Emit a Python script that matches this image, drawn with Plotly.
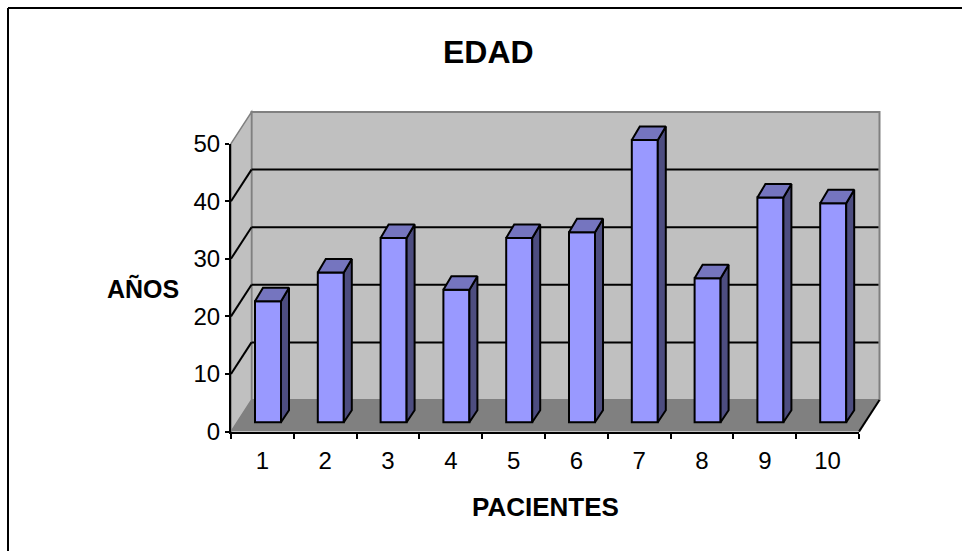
import plotly.graph_objects as go

W, H = 962, 551
pacientes = list(range(1, 11))
edades = [22, 27, 33, 24, 33, 34, 50, 26, 40, 39]
y_ticks = [0, 10, 20, 30, 40, 50]
x_edges = [i + 0.5 for i in range(0, 11)]

FONT = "Liberation Sans, Arial, sans-serif"
L, R, B, T = 231.0, 859.0, 431.6, 143.6
SX, SY = (R - L) / 10, (B - T) / 50
WALL_DX, WALL_DY = 20.5, 31.6
BAR_SHIFT_X, BAR_SHIFT_Y = 5.6, 3.6
BAR_AXIS_MAX = 60
BAR_W = 26 / SX
BAR_BASE = 1
DX_U, DY_TOP_U, DY_BOT_U = 8 / SX, 13.5 / SY, 12 / SY
LW = 2


def px(x):
    return x / W


def py(y):
    return 1 - y / H


fig = go.Figure()

# main axes: only carry the ticks and labels
fig.add_trace(go.Scatter(x=pacientes, y=edades, xaxis="x", yaxis="y", mode="markers",
                         marker=dict(opacity=0), hoverinfo="skip", showlegend=False))

half = BAR_W / 2
fig.add_trace(go.Bar(x=pacientes, y=[v - BAR_BASE for v in edades], base=BAR_BASE, width=BAR_W,
                     xaxis="x2", yaxis="y2", marker=dict(color="#9999FF", line=dict(color="black", width=LW)),
                     hoverinfo="skip", showlegend=False))

side_x, side_y, top_x, top_y = [], [], [], []
for p, v in zip(pacientes, edades):
    r = p + half
    l = p - half
    side_x += [r, r + DX_U, r + DX_U, r, r, None]
    side_y += [BAR_BASE, BAR_BASE + DY_BOT_U, v + DY_TOP_U, v, BAR_BASE, None]
    top_x += [l, l + DX_U, r + DX_U, r, l, None]
    top_y += [v, v + DY_TOP_U, v + DY_TOP_U, v, v, None]

fig.add_trace(go.Scatter(x=side_x, y=side_y, xaxis="x2", yaxis="y2", mode="lines", fill="toself",
                         fillcolor="#4D4D80", line=dict(color="black", width=LW),
                         hoverinfo="skip", showlegend=False))
fig.add_trace(go.Scatter(x=top_x, y=top_y, xaxis="x2", yaxis="y2", mode="lines", fill="toself",
                         fillcolor="#7575BF", line=dict(color="black", width=LW),
                         hoverinfo="skip", showlegend=False))


def poly(points, fill, line=None, width=0):
    path = "M " + " L ".join(f"{px(x)} {py(y)}" for x, y in points) + " Z"
    return dict(type="path", xref="paper", yref="paper", path=path, fillcolor=fill, layer="below",
                line=dict(color=line or fill, width=width))


def seg(x0, y0, x1, y1, color, width):
    return dict(type="line", xref="paper", yref="paper", x0=px(x0), y0=py(y0), x1=px(x1), y1=py(y1),
                layer="below", line=dict(color=color, width=width))


BL, BR = L + WALL_DX, R + WALL_DX
BB, BT = B - WALL_DY, T - WALL_DY
shapes = [
    poly([(BL, BT), (BR, BT), (BR, BB), (BL, BB)], "#C0C0C0", "#808080", 2),
    poly([(L, T), (BL, BT), (BL, BB), (L, B)], "#C0C0C0", "#808080", 1.5),
    poly([(L, B), (BL, BB), (BR, BB), (R, B)], "#808080"),
    seg(R, B, BR, BB, "black", LW),
    seg(8, 8, W, 8, "black", 2),
    seg(8, 8, 8, H, "black", 2),
]
for t in y_ticks[1:-1]:
    yb = BB - t * SY
    yf = B - t * SY
    shapes.append(seg(BL, yb, BR - 1, yb, "black", LW))
    shapes.append(seg(L, yf, BL, yb, "black", LW))

tickfont = dict(family=FONT, size=24, color="black")
fig.update_layout(
    template="none",
    width=W, height=H, margin=dict(l=0, r=0, t=0, b=0, pad=0), autosize=False,
    paper_bgcolor="white", plot_bgcolor="rgba(0,0,0,0)", showlegend=False, shapes=shapes,
    xaxis=dict(domain=[px(L), px(R)], range=[0.5, 10.5], anchor="y", showgrid=False, zeroline=False, automargin=False,
               tickmode="array", tickvals=pacientes, ticktext=[str(p) for p in pacientes], ticks="",
               ticklabelstandoff=7, tickfont=tickfont, showline=True, linecolor="black", linewidth=2,
               minor=dict(tickmode="array", tickvals=x_edges, ticks="outside", ticklen=5,
                          tickcolor="black", tickwidth=1.5, showgrid=False)),
    yaxis=dict(domain=[py(B), py(T)], range=[0, 50], anchor="x", showgrid=False, zeroline=False, automargin=False,
               tickmode="array", tickvals=y_ticks, ticks="outside", ticklen=4, tickcolor="black", tickwidth=1.5,
               tickfont=tickfont, showline=True, linecolor="black", linewidth=2),
    xaxis2=dict(domain=[px(L + BAR_SHIFT_X), px(R + BAR_SHIFT_X)], range=[0.5, 10.5], anchor="y2", visible=False),
    yaxis2=dict(domain=[py(B - BAR_SHIFT_Y), py(B - BAR_SHIFT_Y - BAR_AXIS_MAX * SY)], range=[0, BAR_AXIS_MAX],
                anchor="x2", visible=False),
    annotations=[
        dict(text="<b>EDAD</b>", xref="paper", yref="paper", x=px(488), y=py(52), showarrow=False,
             xanchor="center", yanchor="middle", font=dict(family=FONT, size=32, color="black")),
        dict(text="<b>AÑOS</b>", xref="paper", yref="paper", x=px(143), y=py(288), showarrow=False,
             xanchor="center", yanchor="middle", font=dict(family=FONT, size=25, color="black")),
        dict(text="<b>PACIENTES</b>", xref="paper", yref="paper", x=px(545), y=py(507), showarrow=False,
             xanchor="center", yanchor="middle", font=dict(family=FONT, size=26, color="black")),
    ],
)
fig.write_html("out.html", config=dict(displayModeBar=False),
               post_script="document.body.style.margin='0';document.body.style.overflow='hidden';")
